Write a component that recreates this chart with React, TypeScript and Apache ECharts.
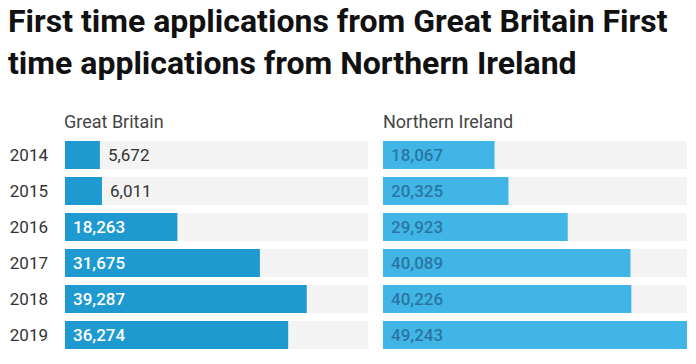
import React, { useEffect, useRef } from "react";
import * as echarts from "echarts";

const years = ["2014", "2015", "2016", "2017", "2018", "2019"];
const greatBritain = [5672, 6011, 18263, 31675, 39287, 36274];
const northernIreland = [18067, 20325, 29923, 40089, 40226, 49243];
const titleText = "First time applications from Great Britain First\ntime applications from Northern Ireland";
const panelNames = ["Great Britain", "Northern Ireland"];

const fmt = (v: number) => v.toLocaleString("en-US");

export default function App() {
  const ref = useRef<HTMLDivElement>(null);
  useEffect(() => {
    if (!ref.current) return;
    const chart = echarts.init(ref.current, null, { renderer: "svg" });
    const maxVal = Math.max(...greatBritain, ...northernIreland);
    const gbData = greatBritain.map((v) => {
      const outside = v / maxVal < 0.2;
      return {
        value: v,
        label: outside
          ? { position: "right", distance: 8, color: "#333", fontWeight: "normal" }
          : { position: "insideLeft", distance: 8, color: "#ffffff", fontWeight: 500 },
      };
    });
    const font = "Roboto, 'Noto Sans', sans-serif";
    chart.setOption({
      animation: false,
      backgroundColor: "#ffffff",
      textStyle: { fontFamily: font },
      title: [
        {
          text: titleText,
          left: 8,
          top: 0,
          padding: 0,
          textStyle: { fontFamily: font, fontSize: 32, fontWeight: "bold", color: "#111", lineHeight: 42 },
        },
        {
          text: panelNames[0],
          left: 64,
          top: 112,
          padding: 0,
          textStyle: { fontFamily: font, fontSize: 18, fontWeight: "normal", color: "#444" },
        },
        {
          text: panelNames[1],
          left: 383,
          top: 112,
          padding: 0,
          textStyle: { fontFamily: font, fontSize: 18, fontWeight: "normal", color: "#444" },
        },
      ],
      grid: [
        { left: 65, top: 137, width: 303, height: 216 },
        { left: 383, top: 137, width: 304, height: 216 },
      ],
      xAxis: [
        { type: "value", gridIndex: 0, min: 0, max: maxVal, show: false },
        { type: "value", gridIndex: 1, min: 0, max: maxVal, show: false },
      ],
      yAxis: [
        {
          type: "category",
          gridIndex: 0,
          data: years,
          inverse: true,
          axisLine: { show: false },
          axisTick: { show: false },
          axisLabel: { color: "#333", fontSize: 17, margin: 17, fontFamily: font },
        },
        {
          type: "category",
          gridIndex: 1,
          data: years,
          inverse: true,
          axisLine: { show: false },
          axisTick: { show: false },
          axisLabel: { show: false },
        },
      ],
      series: [
        {
          type: "bar",
          xAxisIndex: 0,
          yAxisIndex: 0,
          barWidth: 28,
          data: gbData,
          itemStyle: { color: "#1e9ad0" },
          showBackground: true,
          backgroundStyle: { color: "#f4f4f4" },
          label: {
            show: true,
            fontSize: 17,
            fontFamily: font,
            formatter: (p: any) => fmt(p.value),
          },
        },
        {
          type: "bar",
          xAxisIndex: 1,
          yAxisIndex: 1,
          barWidth: 28,
          data: northernIreland,
          itemStyle: { color: "#41b6e6" },
          showBackground: true,
          backgroundStyle: { color: "#f4f4f4" },
          label: {
            show: true,
            position: "insideLeft",
            distance: 8,
            fontSize: 17,
            fontFamily: font,
            fontWeight: 500,
            color: "#2a76a3",
            formatter: (p: any) => fmt(p.value),
          },
        },
      ],
    });
    return () => chart.dispose();
  }, []);
  return (
    <div
      ref={ref}
      style={{ position: "fixed", left: 0, top: 0, width: 696, height: 364 }}
    />
  );
}
